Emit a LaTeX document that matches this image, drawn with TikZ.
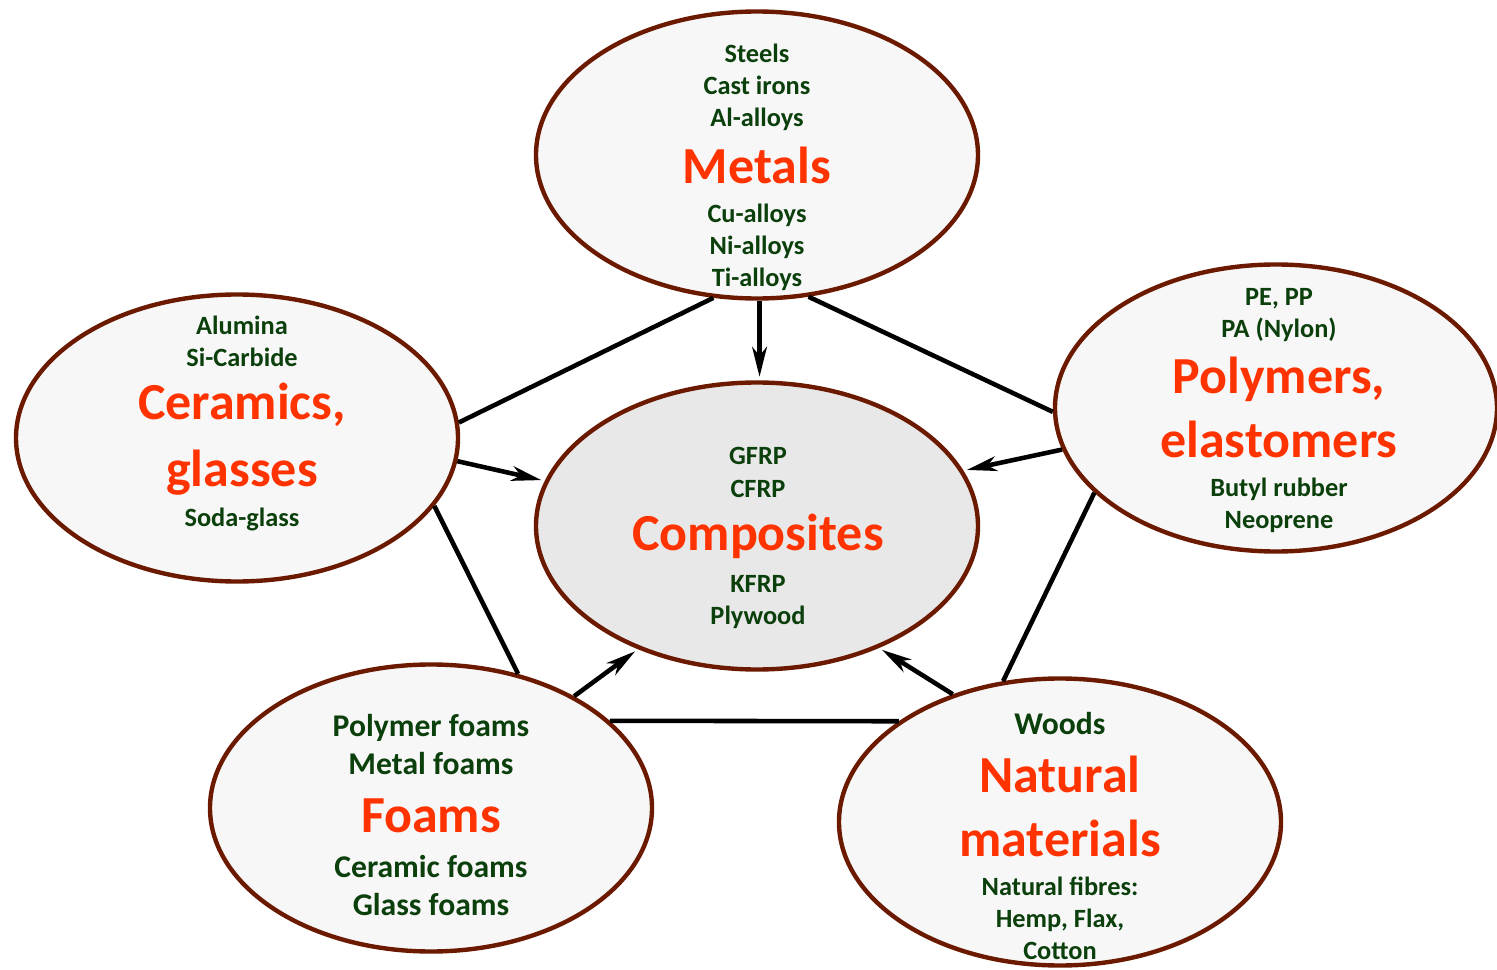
\documentclass[tikz,border=0pt]{standalone}
\usepackage{fontspec}
\setmainfont{Carlito}
\usepackage{tikz}
\usetikzlibrary{shapes.geometric, arrows.meta}

\definecolor{rim}{HTML}{6B1A00}
\definecolor{hot}{HTML}{FF3300}
\definecolor{leaf}{HTML}{0B3F0B}

\begin{document}
\begin{tikzpicture}[
  class/.style={ellipse, draw=rim, line width=1.25pt, fill=black!3,
    minimum width=4.42cm, minimum height=2.87cm},
  headline/.style={anchor=base, text=hot, font=\fontsize{14.8}{18}\selectfont\bfseries},
  sub/.style={anchor=base, text=leaf, font=\fontsize{7.5}{9}\selectfont\bfseries},
  subbig/.style={anchor=base, text=leaf, font=\fontsize{9}{11}\selectfont\bfseries},
  link/.style={line width=1.3pt},
  feed/.style={line width=1.3pt, -{Stealth[length=8.5pt, width=4.2pt, inset=2.5pt]}, shorten >=1pt}
]
\useasboundingbox (0, 0) rectangle (14.97, -9.70);

\node[class] (met) at (7.57, -1.55) {};
\node[class] (cer) at (2.37, -4.38) {};
\node[class] (pol) at (12.76, -4.08) {};
\node[class, fill=black!9] (com) at (7.57, -5.26) {};
\node[class] (foa) at (4.31, -8.08) {};
\node[class] (nat) at (10.60, -8.22) {};

% links between the classes
\draw[link] (met.253) -- (cer.4.6);
\draw[link] (met.-70.6) -- (pol.181.3);
\draw[link] (cer.-19.5) -- (foa.57.4);
\draw[link] (pol.205.9) -- (nat.112.3);
\draw[link] (foa.26.2) -- (nat.148.2);

% everything feeds the composites
\draw[feed] (met.-89) -- (com.89);
\draw[feed] (cer.-6.7) -- (com.168.4);
\draw[feed] (pol.191.6) -- (com.15.3);
\draw[feed] (foa.38.7) -- (com.226.4);
\draw[feed] (nat.130.2) -- (com.315.9);

\node[sub] (met1) at (7.57, -0.62) {Steels};
\node[sub] (met2) at (7.57, -0.94) {Cast irons};
\node[sub] (met3) at (7.57, -1.26) {Al-alloys};
\node[headline] (metT) at (7.57, -1.83) {Metals};
\node[sub] (met4) at (7.57, -2.22) {Cu-alloys};
\node[sub] (met5) at (7.57, -2.54) {Ni-alloys};
\node[sub] (met6) at (7.57, -2.86) {Ti-alloys};

\node[sub] (cer1) at (2.42, -3.34) {Alumina};
\node[sub] (cer2) at (2.42, -3.66) {Si-Carbide};
\node[headline] (cerT) at (2.42, -4.20) {Ceramics,};
\node[headline] (cerU) at (2.42, -4.86) {glasses};
\node[sub] (cer3) at (2.42, -5.26) {Soda-glass};

\node[sub] (pol1) at (12.79, -3.05) {PE, PP};
\node[sub] (pol2) at (12.79, -3.37) {PA (Nylon)};
\node[headline] (polT) at (12.79, -3.93) {Polymers,};
\node[headline] (polU) at (12.79, -4.57) {elastomers};
\node[sub] (pol3) at (12.79, -4.96) {Butyl rubber};
\node[sub] (pol4) at (12.79, -5.28) {Neoprene};

\node[sub] (com1) at (7.58, -4.65) {GFRP};
\node[sub] (com2) at (7.58, -4.97) {CFRP};
\node[headline] (comT) at (7.58, -5.50) {Composites};
\node[sub] (com3) at (7.58, -5.92) {KFRP};
\node[sub] (com4) at (7.58, -6.24) {Plywood};

\node[subbig] (foa1) at (4.31, -7.36) {Polymer foams};
\node[subbig] (foa2) at (4.31, -7.74) {Metal foams};
\node[headline] (foaT) at (4.31, -8.32) {Foams};
\node[subbig] (foa3) at (4.31, -8.77) {Ceramic foams};
\node[subbig] (foa4) at (4.31, -9.15) {Glass foams};

\node[subbig] (nat1) at (10.60, -7.34) {Woods};
\node[headline] (natT) at (10.60, -7.92) {Natural};
\node[headline] (natU) at (10.60, -8.56) {materials};
\node[sub] (nat2) at (10.60, -8.95) {Natural fibres:};
\node[sub] (nat3) at (10.60, -9.27) {Hemp, Flax,};
\node[sub] (nat4) at (10.60, -9.59) {Cotton};
\end{tikzpicture}
\end{document}
